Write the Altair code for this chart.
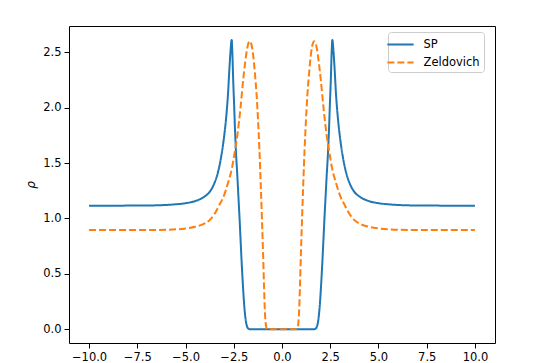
import altair as alt
import pandas as pd

series_names = ["SP", "Zeldovich"]
series_colors = ["#1f77b4", "#ff7f0e"]
x_ticks = [-10, -7.5, -5, -2.5, 0, 2.5, 5, 7.5, 10]
y_ticks = [0, 0.5, 1.0, 1.5, 2.0, 2.5]

sp_x = [-10, -9, -8, -7, -6, -5.5, -5, -4.5, -4, -3.75, -3.5, -3.3, -3.15, -3.0, -2.9,
        -2.8, -2.72, -2.66, -2.61, -2.57, -2.53, -2.48, -2.44, -2.38, -2.32, -2.26, -2.2,
        -2.14, -2.09, -2.02, -1.96, -1.92, -1.87, -1.82, -1.77, -1.72, -1.65, -1.0, 0.0,
        1.0, 1.65, 1.72, 1.77, 1.82, 1.87, 1.92, 1.96, 2.02, 2.09, 2.14, 2.2, 2.26, 2.32,
        2.38, 2.44, 2.48, 2.53, 2.57, 2.61, 2.66, 2.72, 2.8, 2.9, 3.0, 3.15, 3.3, 3.5,
        3.75, 4, 4.5, 5, 5.5, 6, 7, 8, 9, 10]
sp_y = [1.115, 1.115, 1.116, 1.117, 1.122, 1.128, 1.138, 1.157, 1.20, 1.24, 1.32, 1.43,
        1.56, 1.74, 1.90, 2.12, 2.37, 2.53, 2.61, 2.48, 2.25, 2.02, 1.82, 1.58, 1.40,
        1.20, 1.00, 0.78, 0.60, 0.38, 0.22, 0.14, 0.07, 0.03, 0.01, 0.003, 0.0, 0.0, 0.0,
        0.0, 0.0, 0.003, 0.01, 0.03, 0.07, 0.14, 0.22, 0.38, 0.60, 0.78, 1.00, 1.20, 1.40,
        1.58, 1.82, 2.02, 2.25, 2.48, 2.61, 2.53, 2.37, 2.12, 1.90, 1.74, 1.56, 1.43, 1.32,
        1.24, 1.20, 1.157, 1.138, 1.128, 1.122, 1.117, 1.116, 1.115, 1.115]

zel_x = [-10, -8, -7, -6, -5, -4.5, -4, -3.75, -3.5, -3.25, -3.0, -2.8, -2.6, -2.45,
         -2.3, -2.15, -2.0, -1.9, -1.8, -1.72, -1.66, -1.6, -1.52, -1.45, -1.38, -1.31,
         -1.24, -1.17, -1.1, -1.04, -0.98, -0.93, -0.89, -0.85, -0.8, -0.75, 0.0,
         0.75, 0.8, 0.85, 0.89, 0.93, 0.98, 1.04, 1.1, 1.17, 1.24, 1.31, 1.38, 1.45, 1.52,
         1.6, 1.66, 1.72, 1.8, 1.9, 2.0, 2.15, 2.3, 2.45, 2.6, 2.8, 3.0, 3.25, 3.5, 3.75,
         4, 4.5, 5, 6, 7, 8, 10]
zel_y = [0.895, 0.895, 0.896, 0.898, 0.91, 0.925, 0.955, 0.985, 1.04, 1.12, 1.21, 1.32,
         1.45, 1.60, 1.77, 2.00, 2.27, 2.42, 2.54, 2.59, 2.60, 2.58, 2.51, 2.40, 2.26, 2.10,
         1.88, 1.62, 1.30, 1.00, 0.68, 0.38, 0.17, 0.06, 0.01, 0.0, 0.0,
         0.0, 0.01, 0.06, 0.17, 0.38, 0.68, 1.00, 1.30, 1.62, 1.88, 2.10, 2.26, 2.40, 2.51,
         2.58, 2.60, 2.59, 2.54, 2.42, 2.27, 2.00, 1.77, 1.60, 1.45, 1.32, 1.21, 1.12, 1.04,
         0.985, 0.955, 0.925, 0.91, 0.898, 0.896, 0.895, 0.895]

df = pd.concat([
    pd.DataFrame({"x": sp_x, "y": sp_y, "series": series_names[0]}),
    pd.DataFrame({"x": zel_x, "y": zel_y, "series": series_names[1]}),
], ignore_index=True)

FONT = "DejaVu Sans"

legend = alt.Legend(
    title=None, orient="none", legendX=319, legendY=6,
    symbolType="M-1.75,0H1.75", symbolSize=225, symbolStrokeWidth=2,
    labelFontSize=11.5, labelFont=FONT, labelColor="black", labelOffset=14.5,
    padding=4, rowPadding=4, strokeColor="#cccccc", fillColor="white", cornerRadius=3,
)

chart = alt.Chart(df).mark_line(strokeWidth=2, interpolate="monotone").encode(
    x=alt.X("x:Q", scale=alt.Scale(domain=[-11.04, 11.04], nice=False, zero=False),
            axis=alt.Axis(values=x_ticks, format=".1f", title=None)),
    y=alt.Y("y:Q", scale=alt.Scale(domain=[-0.124, 2.737], nice=False, zero=False),
            axis=alt.Axis(values=y_ticks, format=".1f", title="ρ", titleFontStyle="italic",
                          titleAngle=270, titleX=-39, titleY=158.5, titleAlign="center",
                          titleBaseline="middle")),
    color=alt.Color("series:N", scale=alt.Scale(domain=series_names, range=series_colors),
                    legend=legend),
    strokeDash=alt.StrokeDash("series:N",
                              scale=alt.Scale(domain=series_names, range=[[1, 0], [7, 3]]),
                              legend=legend),
).properties(
    width=426, height=317,
    autosize=alt.AutoSizeParams(type="none"),
    padding={"left": 61, "top": 18, "right": 40, "bottom": 20},
).configure_view(
    stroke="black", strokeWidth=1
).configure_axis(
    domain=False, grid=False, tickColor="black", tickSize=5, labelFontSize=11.5,
    labelFont=FONT, labelColor="black", labelPadding=3, titleFont=FONT,
    titleFontSize=12, titleFontWeight="normal", titleColor="black",
)

chart.save("out.html", embed_options={"renderer": "svg", "actions": False})
